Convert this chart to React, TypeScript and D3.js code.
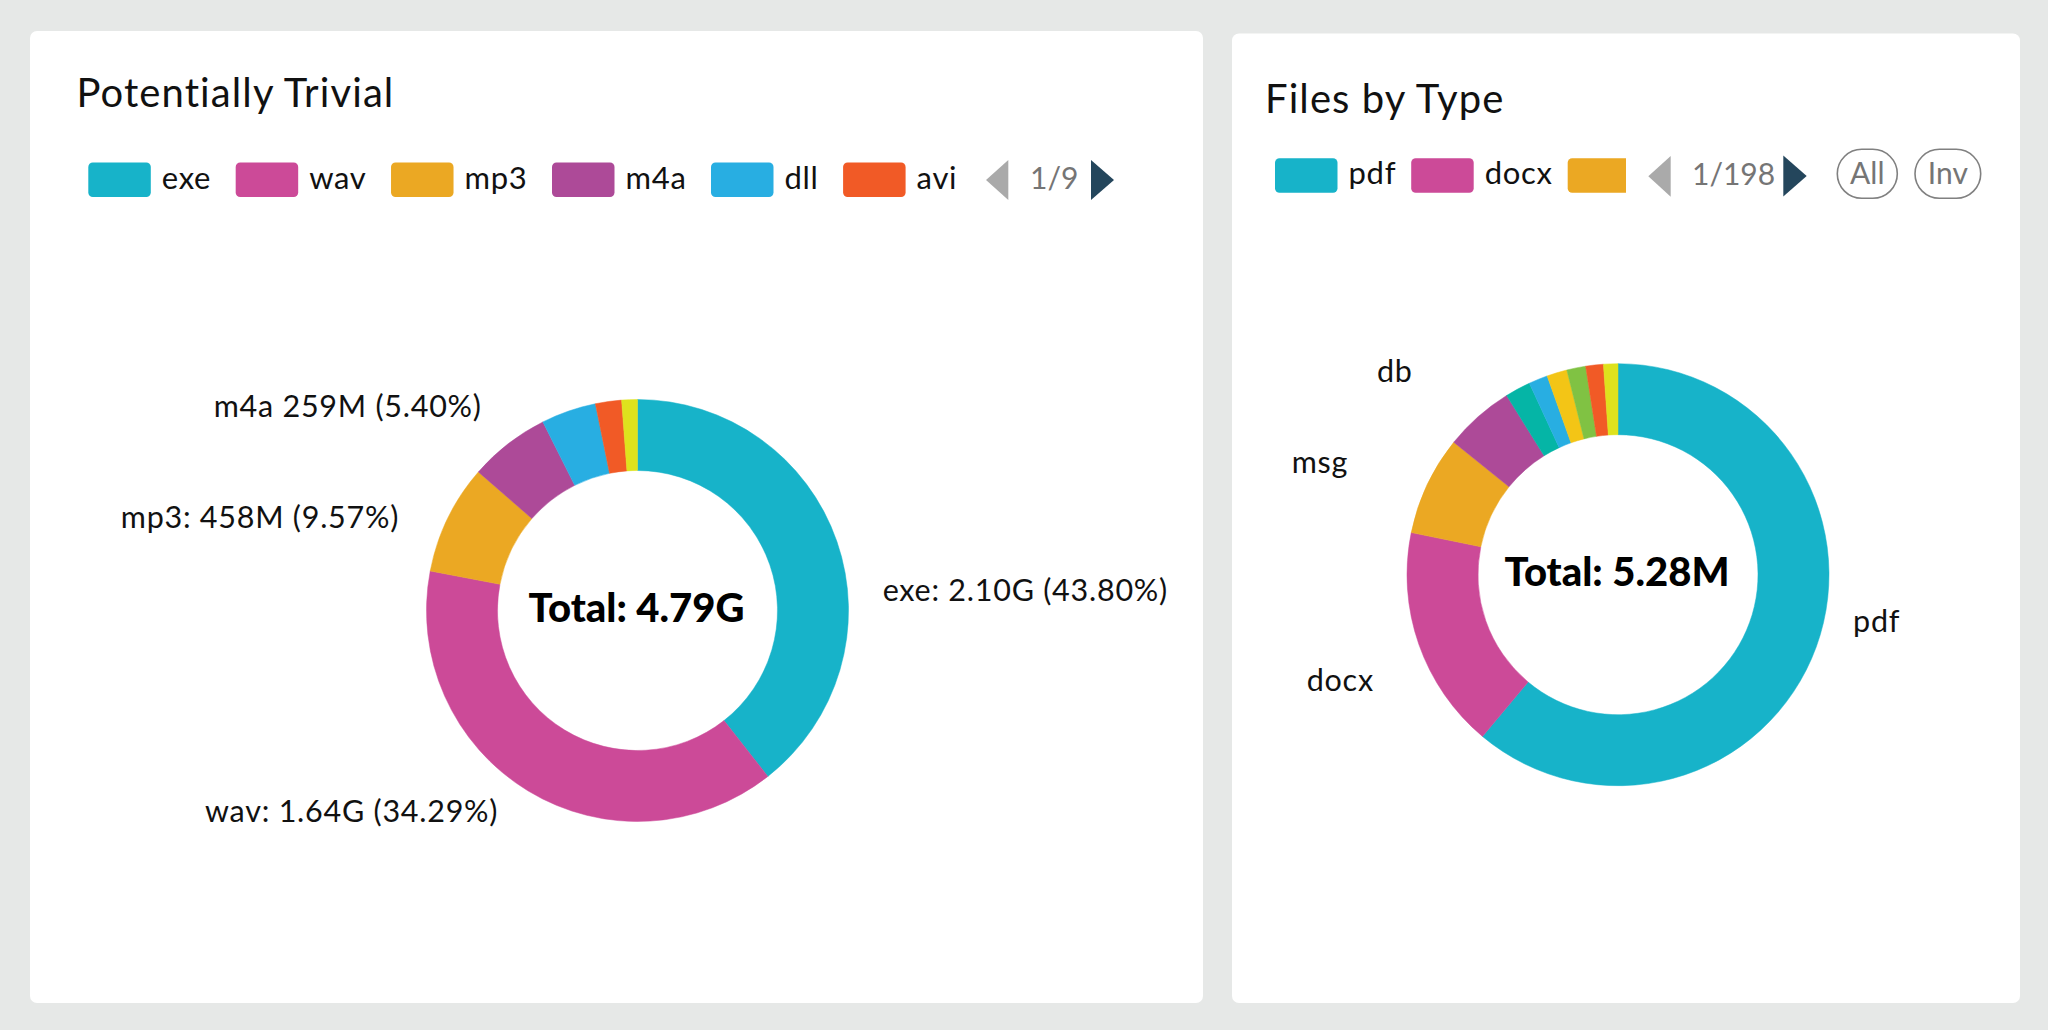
import React, { useEffect, useRef } from 'react';
import * as d3 from 'd3';

// ---------------- DATA ----------------
// "Potentially Trivial" ring: share of the ring drawn for each type
const trivialCategories = ['exe', 'wav', 'mp3', 'm4a', 'dll', 'avi', 'other'];
const trivialShares = [39.4, 38.6, 8.4, 6.2, 4.2, 2.0, 1.2];
const trivialLegendItems = ['exe', 'wav', 'mp3', 'm4a', 'dll', 'avi'];
const trivialLabelTexts: Record<string, string> = {
  exe: 'exe: 2.10G (43.80%)',
  wav: 'wav: 1.64G (34.29%)',
  mp3: 'mp3: 458M (9.57%)',
  m4a: 'm4a 259M (5.40%)',
};
const trivialTotal = 'Total: 4.79G';
const trivialPage = '1/9';

// "Files by Type" ring
const typeCategories = ['pdf', 'docx', 'msg', 'db', 'type5', 'type6', 'type7', 'type8', 'type9', 'type10'];
const typeShares = [61.1, 17.1, 7.6, 5.35, 1.95, 1.45, 1.55, 1.45, 1.35, 1.1];
const typeLegendItems = ['pdf', 'docx', 'msg'];
const typeLabelTexts: Record<string, string> = { pdf: 'pdf', docx: 'docx', msg: 'msg', db: 'db' };
const typeTotal = 'Total: 5.28M';
const typePage = '1/198';
const selectorButtons = ['All', 'Inv'];

// ---------------- STYLE / LAYOUT ----------------
const COLORS: Record<string, string> = {
  exe: '#17b3c9', wav: '#cc4a98', mp3: '#eba823', m4a: '#ad4a98', dll: '#28aee2', avi: '#f15a26', other: '#dee21d',
  pdf: '#17b3c9', docx: '#cc4a98', msg: '#eba823', db: '#ad4a98', type5: '#05b5a6', type6: '#28aee2',
  type7: '#f3c516', type8: '#80c243', type9: '#f15a26', type10: '#dee21d',
};
const FONT = 'Lato, "Open Sans", "Noto Sans", sans-serif';
const W = 2048;
const H = 1030;
const OUTER_R = 211;
const INNER_R = 140;
const LABEL_R = 248;

const trivialLabelNudge: Record<string, [number, number]> = {
  exe: [10.8, 71.4], wav: [-10.4, -0.7], mp3: [-15.4, 26.1], m4a: [-3.8, 2.1],
};
const typeLabelNudge: Record<string, [number, number]> = {
  pdf: [2, -27.5], docx: [-10, 35], msg: [-45.6, 4], db: [-41, -7],
};

interface PanelCfg {
  card: [number, number, number, number];
  title: string;
  titlePos: [number, number];
  legendItems: string[];
  legendX: number;
  legendCY: number;
  legendClip: number;
  itemGap: number;
  prev: [number, number, number, number]; // x0,x1,y0,y1
  next: [number, number, number, number];
  pageText: string;
  pageX: number;
  buttons?: { text: string; x: number; w: number }[];
  buttonY?: [number, number];
  center: [number, number];
  categories: string[];
  shares: number[];
  labelTexts: Record<string, string>;
  nudge: Record<string, [number, number]>;
  total: string;
}

const panels: PanelCfg[] = [
  {
    card: [30, 31, 1173, 972],
    title: 'Potentially Trivial',
    titlePos: [76.5, 106.7],
    legendItems: trivialLegendItems,
    legendX: 88.3,
    legendCY: 179.7,
    legendClip: 980,
    itemGap: 24.5,
    prev: [986, 1008.3, 160, 200],
    next: [1091, 1114, 160, 200],
    pageText: trivialPage,
    pageX: 1030,
    center: [637.5, 610.5],
    categories: trivialCategories,
    shares: trivialShares,
    labelTexts: trivialLabelTexts,
    nudge: trivialLabelNudge,
    total: trivialTotal,
  },
  {
    card: [1232, 33.5, 788, 969.5],
    title: 'Files by Type',
    titlePos: [1265, 113.3],
    legendItems: typeLegendItems,
    legendX: 1275,
    legendCY: 175.5,
    legendClip: 1626,
    itemGap: 15,
    prev: [1648.3, 1670.7, 156, 196.7],
    next: [1783.3, 1806.7, 155.5, 196.5],
    pageText: typePage,
    pageX: 1692,
    buttons: [
      { text: selectorButtons[0], x: 1837.3, w: 60 },
      { text: selectorButtons[1], x: 1915, w: 65.7 },
    ],
    buttonY: [149.3, 198.3],
    center: [1618, 574.7],
    categories: typeCategories,
    shares: typeShares,
    labelTexts: typeLabelTexts,
    nudge: typeLabelNudge,
    total: typeTotal,
  },
];

function drawPanel(svg: d3.Selection<SVGSVGElement, unknown, null, undefined>, cfg: PanelCfg, idx: number) {
  const g = svg.append('g');
  const [cx0, cy0, cw, ch] = cfg.card;
  g.append('rect').attr('x', cx0).attr('y', cy0).attr('width', cw).attr('height', ch)
    .attr('rx', 7).attr('fill', '#ffffff');

  g.append('text').attr('x', cfg.titlePos[0]).attr('y', cfg.titlePos[1])
    .attr('font-family', FONT).attr('font-size', 40).attr('letter-spacing', 1.1)
    .attr('fill', '#111').text(cfg.title);

  // legend with clipping
  const clipId = `legclip${idx}`;
  svg.append('defs').append('clipPath').attr('id', clipId).append('rect')
    .attr('x', cfg.legendX - 5).attr('y', cfg.legendCY - 40).attr('width', cfg.legendClip - cfg.legendX + 5).attr('height', 80);
  const leg = g.append('g').attr('clip-path', `url(#${clipId})`);
  let x = cfg.legendX;
  const sw = 62.5, sh = 34.5, textGap = 11;
  cfg.legendItems.forEach((name) => {
    if (x >= cfg.legendClip) return;
    leg.append('rect').attr('x', x).attr('y', cfg.legendCY - sh / 2).attr('width', sw).attr('height', sh)
      .attr('rx', 4.5).attr('fill', COLORS[name]);
    const tx = x + sw + textGap;
    if (tx >= cfg.legendClip) { x = cfg.legendClip; return; }
    const t = leg.append('text').attr('x', tx).attr('y', cfg.legendCY + 8.8)
      .attr('font-family', FONT).attr('font-size', 31).attr('letter-spacing', 0.7)
      .attr('fill', '#111').text(name);
    const tw = (t.node() as SVGTextElement).getComputedTextLength();
    x += sw + textGap + tw + cfg.itemGap;
  });

  // page controls
  const [p0, p1, py0, py1] = cfg.prev;
  g.append('path').attr('d', `M${p0},${(py0 + py1) / 2}L${p1},${py0}L${p1},${py1}Z`).attr('fill', '#aaaaaa');
  const [n0, n1, ny0, ny1] = cfg.next;
  g.append('path').attr('d', `M${n0},${ny0}L${n1},${(ny0 + ny1) / 2}L${n0},${ny1}Z`).attr('fill', '#24465c');
  g.append('text').attr('x', cfg.pageX).attr('y', cfg.legendCY + 9.5)
    .attr('font-family', FONT).attr('font-size', 30).attr('fill', '#757575').text(cfg.pageText);

  if (cfg.buttons && cfg.buttonY) {
    const [by0, by1] = cfg.buttonY;
    cfg.buttons.forEach((b) => {
      g.append('rect').attr('x', b.x).attr('y', by0).attr('width', b.w).attr('height', by1 - by0)
        .attr('rx', (by1 - by0) / 2).attr('fill', 'none').attr('stroke', '#808080').attr('stroke-width', 1.6);
      g.append('text').attr('x', b.x + b.w / 2).attr('y', (by0 + by1) / 2 + 10.5).attr('text-anchor', 'middle')
        .attr('font-family', FONT).attr('font-size', 30).attr('fill', '#757575').text(b.text);
    });
  }

  // donut
  const data = cfg.categories.map((c, i) => ({ name: c, value: cfg.shares[i] }));
  const pie = d3.pie<{ name: string; value: number }>().sort(null).value((d) => d.value)
    .startAngle(0).endAngle(2 * Math.PI);
  const arcs = pie(data);
  const arc = d3.arc<d3.PieArcDatum<{ name: string; value: number }>>().innerRadius(INNER_R).outerRadius(OUTER_R);
  const [cx, cy] = cfg.center;
  const dg = g.append('g').attr('transform', `translate(${cx},${cy})`);
  dg.selectAll('path.slice').data(arcs).enter().append('path').attr('class', 'slice')
    .attr('d', (d) => arc(d) as string).attr('fill', (d) => COLORS[d.data.name])
    .attr('stroke', (d) => COLORS[d.data.name]).attr('stroke-width', 0.5);

  // labels
  arcs.forEach((a) => {
    const txt = cfg.labelTexts[a.data.name];
    if (!txt) return;
    const mid = (a.startAngle + a.endAngle) / 2;
    const bx = Math.sin(mid) * LABEL_R;
    const by = -Math.cos(mid) * LABEL_R;
    const nud = cfg.nudge[a.data.name] || [0, 0];
    const right = Math.sin(mid) >= 0;
    dg.append('text').attr('x', bx + nud[0]).attr('y', by + nud[1])
      .attr('text-anchor', right ? 'start' : 'end')
      .attr('font-family', FONT).attr('font-size', 30.5).attr('letter-spacing', 0.75)
      .attr('fill', '#111').text(txt);
  });

  dg.append('text').attr('x', -1).attr('y', 11.5).attr('text-anchor', 'middle')
    .attr('font-family', FONT).attr('font-weight', 900).attr('font-size', 40).attr('fill', '#000').text(cfg.total);
}

export default function App() {
  const ref = useRef<SVGSVGElement | null>(null);
  useEffect(() => {
    if (!ref.current) return;
    const svg = d3.select(ref.current);
    svg.selectAll('*').remove();
    svg.append('rect').attr('x', 0).attr('y', 0).attr('width', W).attr('height', H).attr('fill', '#e6e8e7');
    panels.forEach((p, i) => drawPanel(svg, p, i));
  }, []);
  return (
    <svg ref={ref} width={W} height={H} viewBox={`0 0 ${W} ${H}`}
      style={{ position: 'absolute', left: 0, top: 0, display: 'block' }} />
  );
}
